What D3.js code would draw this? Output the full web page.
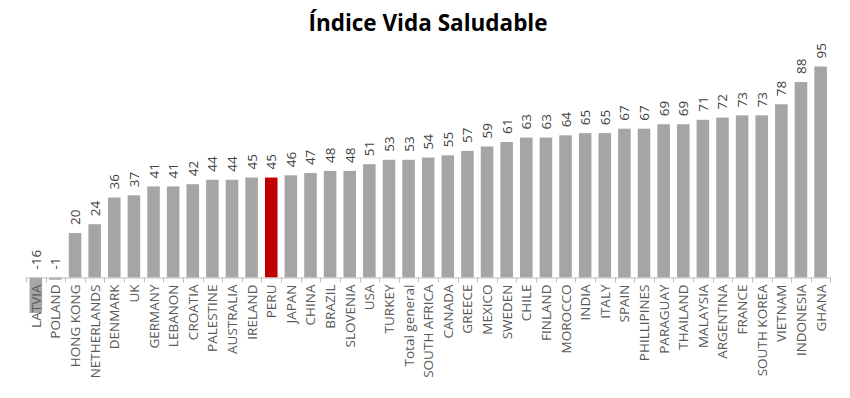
<!DOCTYPE html>
<html>
<head>
<meta charset="utf-8">
<script src="https://cdn.jsdelivr.net/npm/d3@7"></script>
<style>
  body { margin:0; background:#fff; }
  svg text { font-family: "Open Sans", sans-serif; }
</style>
</head>
<body>
<svg id="chart" width="850" height="398"></svg>
<script>
var countries = ["LATVIA","POLAND","HONG KONG","NETHERLANDS","DENMARK","UK","GERMANY","LEBANON","CROATIA","PALESTINE",
  "AUSTRALIA","IRELAND","PERU","JAPAN","CHINA","BRAZIL","SLOVENIA","USA","TURKEY","Total general",
  "SOUTH AFRICA","CANADA","GREECE","MEXICO","SWEDEN","CHILE","FINLAND","MOROCCO","INDIA","ITALY",
  "SPAIN","PHILLIPINES","PARAGUAY","THAILAND","MALAYSIA","ARGENTINA","FRANCE","SOUTH KOREA","VIETNAM","INDONESIA","GHANA"]
var scores = [-16,-1,20,24,36,37,41,41,42,44,
  44,45,45,46,47,48,48,51,53,53,
  54,55,57,59,61,63,63,64,65,65,
  67,67,69,69,71,72,73,73,78,88,95]
var highlight = ["PERU"]

var svg = d3.select("#chart")

var x = d3.scaleBand().domain(countries).range([26, 830.4]).paddingInner(0.36).paddingOuter(0.18)
var y = d3.scaleLinear().domain([0, 95]).range([277.5, 66.5])

svg.append("text")
  .attr("x", 428).attr("y", 31)
  .attr("text-anchor", "middle")
  .style("font-size", "22.5px").style("font-weight", "bold").style("fill", "#000")
  .text("Índice Vida Saludable")

var data = countries.map(function(c, i){ return {name: c, v: scores[i]} })

svg.append("g").selectAll("rect").data(data).enter().append("rect")
  .attr("x", function(d){ return x(d.name) })
  .attr("width", x.bandwidth())
  .attr("y", function(d){ return y(Math.max(0, d.v)) })
  .attr("height", function(d){ return Math.abs(y(d.v) - y(0)) })
  .style("fill", function(d){ return highlight.indexOf(d.name) >= 0 ? "#C00000" : "#A5A5A5" })

// axis line and ticks at band edges
var axis = svg.append("g").style("stroke", "#bfbfbf").style("stroke-width", 1)
axis.append("line").attr("x1", x.range()[0]).attr("x2", x.range()[1]).attr("y1", y(0)+0.5).attr("y2", y(0)+0.5)
var step = x.step()
d3.range(countries.length + 1).forEach(function(i){
  var xx = Math.round(x(countries[0]) - x.step()*x.paddingOuter() + i*step) + 0.5
  axis.append("line").attr("x1", xx).attr("x2", xx).attr("y1", y(0)).attr("y2", y(0)+5)
})

// value labels
svg.append("g").selectAll("text").data(data).enter().append("text")
  .attr("transform", function(d){
    return "translate(" + (x(d.name) + x.bandwidth()/2) + "," + (y(Math.max(0, d.v)) - 8) + ") rotate(-90)"
  })
  .attr("dominant-baseline", "central")
  .style("font-size", "13.5px").style("fill", "#404040")
  .text(function(d){ return d.v })

// category labels
svg.append("g").selectAll("text").data(data).enter().append("text")
  .attr("transform", function(d){
    return "translate(" + (x(d.name) + x.bandwidth()/2) + "," + (y(0) + 7) + ") rotate(-90)"
  })
  .attr("text-anchor", "end")
  .attr("dominant-baseline", "central")
  .style("font-size", "13.5px").style("fill", "#595959")
  .text(function(d){ return d.name })
</script>
</body>
</html>
